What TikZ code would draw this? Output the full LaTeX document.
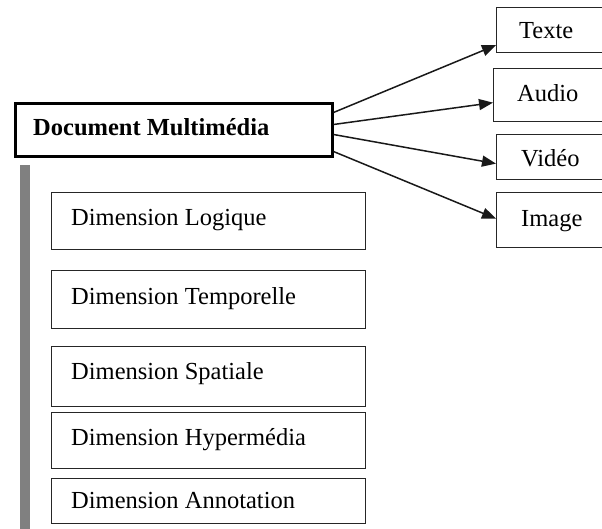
\documentclass[tikz,border=0pt]{standalone}
\usepackage{fontspec}
\setmainfont{Liberation Serif}
\usetikzlibrary{arrows.meta}
\begin{document}
\begin{tikzpicture}[x=1pt,y=-1pt,
  box/.style={draw=black!85, line width=1.3pt, inner sep=0pt, anchor=north west},
  mainbox/.style={draw=black, line width=3pt, inner sep=0pt, anchor=north west},
  lbl/.style={anchor=base west, inner sep=0pt, font=\fontsize{24.5pt}{29pt}\selectfont},
  arr/.style={draw=black!90, line width=1.5pt, -{Triangle[length=14pt,width=11pt]}}]
\useasboundingbox (0,0) rectangle (602,529);
\clip (0,0) rectangle (602,529);
% gray bar
\fill[black!50] (20,165) rectangle (30,529);
% main box
\node[mainbox, minimum width=317pt, minimum height=53pt] (main) at (13.5,102.5) {};
\node[lbl, font=\fontsize{24.5pt}{29pt}\selectfont\bfseries] (mainl) at (33,136) {Document Multimédia};
% right boxes
\node[box, minimum width=124pt, minimum height=45pt] (texte) at (496,7) {};
\node[box, minimum width=127pt, minimum height=53pt] (audio) at (493,68) {};
\node[box, minimum width=124pt, minimum height=45pt] (video) at (496,134) {};
\node[box, minimum width=124pt, minimum height=55pt] (image) at (496,192) {};
\node[lbl] (textel) at (519,39) {Texte};
\node[lbl] (audiol) at (517,102) {Audio};
\node[lbl] (videol) at (521,167) {Vidéo};
\node[lbl] (imagel) at (521,227) {Image};
% dimension boxes
\node[box, minimum width=314pt, minimum height=57pt] (logique) at (51,192) {};
\node[box, minimum width=314pt, minimum height=58pt] (temp) at (51,270) {};
\node[box, minimum width=314pt, minimum height=60pt] (spat) at (51,346) {};
\node[box, minimum width=314pt, minimum height=56pt] (hyper) at (51,412) {};
\node[box, minimum width=314pt, minimum height=45pt] (annot) at (51,478) {};
\node[lbl] (logiquel) at (71,226) {Dimension Logique};
\node[lbl] (templ) at (71,304) {Dimension Temporelle};
\node[lbl] (spatl) at (71,379) {Dimension Spatiale};
\node[lbl] (hyperl) at (71,445) {Dimension Hypermédia};
\node[lbl] (annotl) at (71,508) {Dimension Annotation};
% arrows
\draw[arr] ([yshift=18pt]main.east) -- ([yshift=-15pt]texte.west);
\draw[arr] ([yshift=6pt]main.east) -- ([yshift=-7.5pt]audio.west);
\draw[arr] ([yshift=-4pt]main.east) -- ([yshift=-6.5pt]video.west);
\draw[arr] ([yshift=-21pt]main.east) -- ([yshift=1.5pt]image.west);
\end{tikzpicture}
\end{document}
